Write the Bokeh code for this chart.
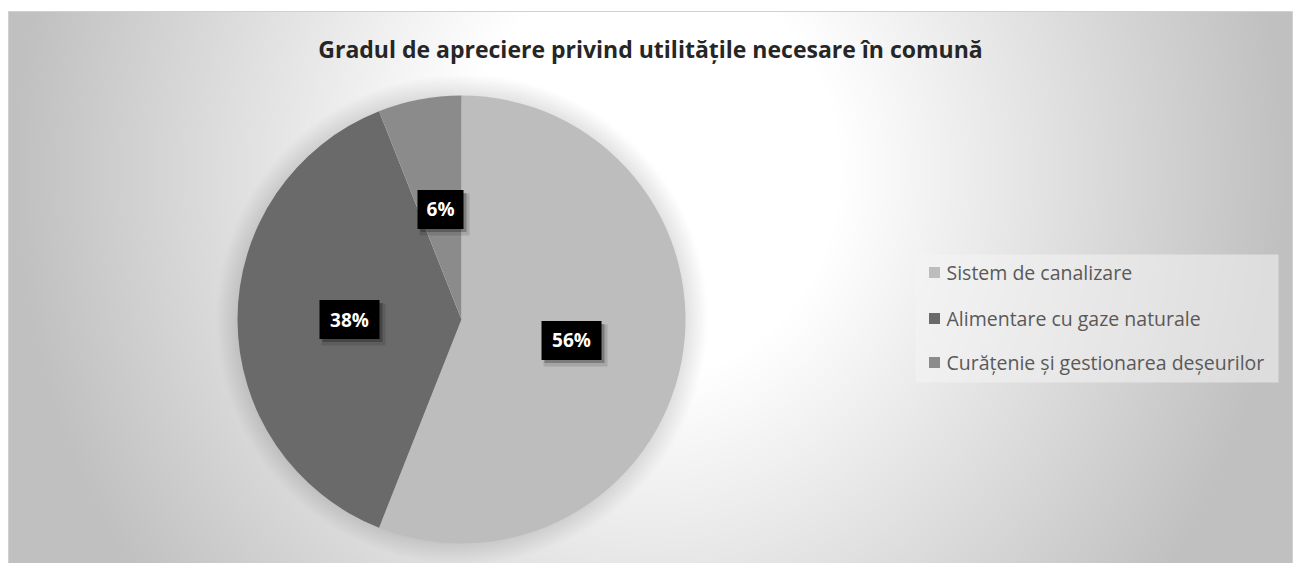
import numpy as np
from bokeh.plotting import figure
from bokeh.models import Range1d, ColumnDataSource
from bokeh.core.properties import value
from bokeh.embed import file_html
from bokeh.resources import INLINE

# ---- data ----
categories = ["Sistem de canalizare", "Alimentare cu gaze naturale", "Curățenie și gestionarea deșeurilor"]
shares = [56, 38, 6]
colors = ["#bdbdbd", "#6a6a6a", "#8b8b8b"]
title_text = "Gradul de apreciere privind utilitățile necesare în comună"

# ---- layout (screen px -> data units) ----
W, H = 1298, 563
def X(sx): return sx
def Y(sy): return H - sy

p = figure(width=W, height=H, x_range=Range1d(0, W), y_range=Range1d(0, H),
           output_backend="svg", toolbar_location=None, min_border=0)
p.axis.visible = False
p.grid.visible = False
p.outline_line_color = None
p.background_fill_color = "white"
p.border_fill_color = "white"

cx_s, cy_s, R = 461, 319, 224

# background gradient (radial, white centre -> grey edges) with soft halo round the pie
iw, ih = 642, 276
sxs = np.linspace(8, 1292, iw)
sys_ = np.linspace(563, 11, ih)
GX, GY = np.meshgrid(sxs, sys_)
d = np.sqrt(((GX - 650) / 640.0) ** 2 + ((GY - 170) / 700.0) ** 2)
t = np.clip((d - 0.3) / 0.7, 0, 1)
g = 255 - 63 * t
dp = np.sqrt((GX - cx_s) ** 2 + (GY - cy_s) ** 2) - R
halo = np.clip(1 - dp / 22.0, 0, 1) * (dp > -5)
g = g - 28 * halo
g = np.clip(g, 0, 255).astype(np.uint32)
img = (255 << 24) | (g << 16) | (g << 8) | g
p.image_rgba(image=[img.astype(np.uint32)], x=X(8), y=Y(563), dw=1292 - 8, dh=563 - 11)
p.quad(left=[X(8)], right=[X(1292)], bottom=[Y(563)], top=[Y(11)], fill_color=None,
       line_color="#d0d0d0", line_width=1)

# title
p.text(x=[X(650)], y=[Y(48)], text=[title_text], text_align="center", text_baseline="middle",
       text_font=value("Open Sans"), text_font_style="bold", text_font_size="23px",
       text_color="#262626")

# pie
fr = np.array(shares, dtype=float) / np.sum(shares)
cum = np.concatenate([[0], np.cumsum(fr)])
starts = np.pi / 2 - 2 * np.pi * cum[:-1]
ends = np.pi / 2 - 2 * np.pi * cum[1:]
mids = (starts + ends) / 2
src = ColumnDataSource(dict(start=starts, end=ends, color=colors, cat=categories))
p.wedge(x=X(cx_s), y=Y(cy_s), radius=R, start_angle="start", end_angle="end",
        direction="clock", fill_color="color", line_color=None, source=src)

# data labels (black boxes, white text)
lx = X(cx_s) + 0.5 * R * np.cos(mids)
ly = Y(cy_s) + 0.5 * R * np.sin(mids)
labels = [f"{v}%" for v in shares]
bw = [60 if len(s) > 2 else 46 for s in labels]
p.rect(x=lx + 4, y=ly - 5, width=[w + 4 for w in bw], height=42, fill_color="black",
       fill_alpha=0.12, line_color=None)
p.rect(x=lx + 3, y=ly - 3, width=bw, height=39, fill_color="black",
       fill_alpha=0.25, line_color=None)
p.rect(x=lx, y=ly, width=bw, height=39, fill_color="black", line_color=None)
p.text(x=lx, y=ly, text=labels, text_align="center", text_baseline="middle",
       text_font=value("Open Sans"), text_font_style="bold", text_font_size="19px",
       text_color="white")

# legend
p.quad(left=[X(915)], right=[X(1278)], bottom=[Y(382)], top=[Y(254)],
       fill_color="#f4f4f4", fill_alpha=0.55, line_color=None)
leg_y = [Y(272), Y(318), Y(362)]
p.rect(x=[X(934)] * 3, y=leg_y, width=11, height=11, fill_color=colors, line_color=None)
p.text(x=[X(946)] * 3, y=leg_y, text=categories, text_align="left", text_baseline="middle",
       text_font=value("Open Sans"), text_font_size="19.5px", text_color="#595959")

open("out.html", "w").write(file_html(p, INLINE))
